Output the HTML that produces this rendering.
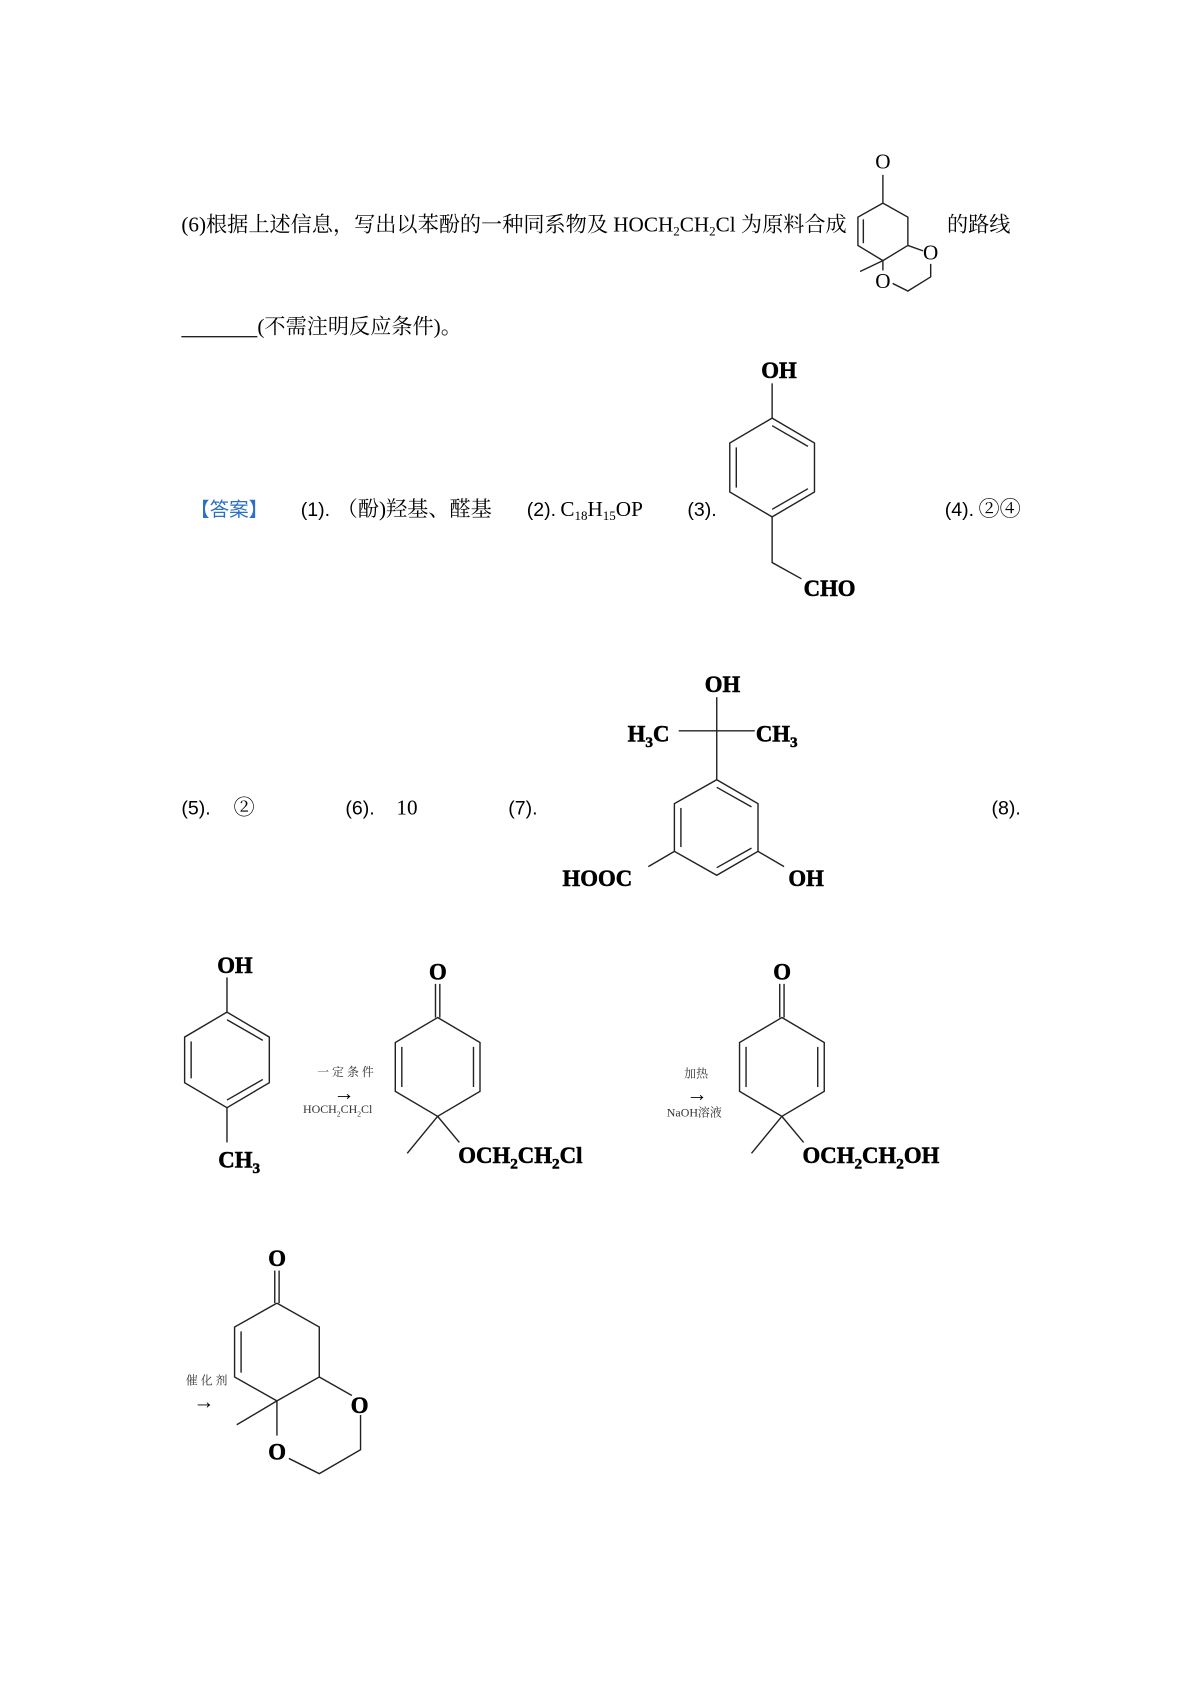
<!DOCTYPE html>
<html><head><meta charset="utf-8"><style>
html,body{margin:0;padding:0;background:#fff;}
svg{display:block}
.t{font-family:"Liberation Serif","Noto Serif CJK SC","Noto Sans CJK SC",serif;font-size:19.5px;fill:#000}
.s{font-family:"Liberation Sans","Noto Sans CJK SC",sans-serif;font-size:18px;fill:#000}
.b{font-family:"Liberation Serif",serif;font-weight:bold;font-size:21px;fill:#000;stroke:#000;stroke-width:0.5}
.sm{font-family:"Liberation Serif","Noto Serif CJK SC",serif;font-size:11px;fill:#333}
line,polyline,polygon{stroke:#222;stroke-width:1.3;fill:none}
</style></head><body>
<svg width="1200" height="1698" viewBox="0 0 1105 1563.6" xmlns="http://www.w3.org/2000/svg">
<text class="t" x="167" y="213">(6)根据上述信息，写出以苯酚的一种同系物及 HOCH<tspan font-size="12" dy="4">2</tspan><tspan dy="-4">CH</tspan><tspan font-size="12" dy="4">2</tspan><tspan dy="-4">Cl 为原料合成</tspan></text>
<text class="t" x="872" y="213">的路线</text>
<text class="t" x="806" y="155" font-size="20">O</text>
<line x1="813" y1="161" x2="813" y2="187"/>
<polyline points="813,187 836,200 836,226"/>
<polyline points="836,226 813,240 790,226 790,200 813,187"/>
<line x1="795" y1="202" x2="795" y2="224"/>
<line x1="813" y1="240" x2="792" y2="250"/>
<line x1="813" y1="240" x2="813" y2="249"/>
<line x1="836" y1="226" x2="850" y2="231"/>
<text class="t" x="850" y="239" font-size="19">O</text>
<text class="t" x="806" y="265" font-size="19">O</text>
<polyline points="857,243 857,255 836,268 822,261"/>
<line x1="167" y1="310" x2="237" y2="310" stroke="#888" stroke-width="1"/>
<text class="t" x="237" y="307">(不需注明反应条件)。</text>

<text class="s" x="175" y="475" style="fill:#2a6fc9">【答案】</text>
<text class="s" x="277" y="475">(1).</text><text class="t" x="310" y="475">（酚)羟基、醛基</text>
<text class="s" x="485" y="475">(2).</text><text class="t" x="516" y="475">C<tspan font-size="12" dy="4">18</tspan><tspan dy="-4">H</tspan><tspan font-size="12" dy="4">15</tspan><tspan dy="-4">OP</tspan></text>
<text class="s" x="633" y="475">(3).</text>
<text class="s" x="870" y="475">(4).</text><text class="t" x="901" y="475">②④</text>
<text class="b" x="701" y="348">OH</text>
<line x1="711" y1="353" x2="711" y2="385"/>
<polygon points="711,385 750,408 750,453 711,476 672,453 672,408"/>
<line x1="711" y1="392" x2="744" y2="411"/>
<line x1="678" y1="412" x2="678" y2="449"/>
<line x1="744" y1="450" x2="711" y2="469"/>
<polyline points="711,476 711,518 738,533"/>
<text class="b" x="740" y="549">CHO</text>

<text class="s" x="167" y="750">(5).</text><text class="t" x="215" y="750">②</text>
<text class="s" x="318" y="750">(6).</text><text class="t" x="365" y="750">10</text>
<text class="s" x="468" y="750">(7).</text>
<text class="s" x="913" y="750">(8).</text>
<text class="b" x="649" y="637">OH</text>
<line x1="660" y1="642" x2="660" y2="718"/>
<line x1="625" y1="673" x2="695" y2="673"/>
<text class="b" x="578" y="683">H<tspan font-size="14" dy="5">3</tspan><tspan dy="-5">C</tspan></text>
<text class="b" x="696" y="683">CH<tspan font-size="14" dy="5">3</tspan></text>
<polygon points="660,718 698,740 698,784 660,806 621,784 621,740"/>
<line x1="660" y1="725" x2="692" y2="743"/>
<line x1="627" y1="744" x2="627" y2="780"/>
<line x1="692" y1="781" x2="660" y2="799"/>
<line x1="621" y1="784" x2="597" y2="798"/>
<line x1="698" y1="784" x2="722" y2="798"/>
<text class="b" x="518" y="816">HOOC</text>
<text class="b" x="726" y="816">OH</text>

<text class="b" x="200" y="896">OH</text>
<line x1="209" y1="900" x2="209" y2="932"/>
<polygon points="209,932 248,955 248,997 209,1020 170,997 170,955"/>
<line x1="209" y1="939" x2="242" y2="958"/>
<line x1="176" y1="959" x2="176" y2="993"/>
<line x1="242" y1="994" x2="209" y2="1013"/>
<line x1="209" y1="1020" x2="209" y2="1052"/>
<text class="b" x="201" y="1075">CH<tspan font-size="14" dy="5">3</tspan></text>
<text class="sm" x="292" y="991">一 定 条 件</text>
<text class="t" x="307" y="1013" font-size="16">→</text>
<text class="sm" x="279" y="1025">HOCH<tspan font-size="7" dy="3">2</tspan><tspan dy="-3">CH</tspan><tspan font-size="7" dy="3">2</tspan><tspan dy="-3">Cl</tspan></text>

<g id="m2">
<text class="b" x="395" y="902">O</text>
<line x1="401" y1="906" x2="401" y2="937"/><line x1="405" y1="906" x2="405" y2="937"/>
<polygon points="403,937 442,960 442,1005 403,1028 364,1005 364,960"/>
<line x1="370" y1="964" x2="370" y2="1001"/>
<line x1="436" y1="964" x2="436" y2="1001"/>
<line x1="403" y1="1028" x2="375" y2="1062"/>
<line x1="403" y1="1028" x2="423" y2="1052"/>
</g>
<text class="b" x="422" y="1071">OCH<tspan font-size="14" dy="5">2</tspan><tspan dy="-5">CH</tspan><tspan font-size="14" dy="5">2</tspan><tspan dy="-5">Cl</tspan></text>
<text class="sm" x="630" y="992">加热</text>
<text class="t" x="632" y="1014" font-size="16">→</text>
<text class="sm" x="614" y="1028">NaOH溶液</text>
<use href="#m2" x="317" y="0"/>
<text class="b" x="739" y="1071">OCH<tspan font-size="14" dy="5">2</tspan><tspan dy="-5">CH</tspan><tspan font-size="14" dy="5">2</tspan><tspan dy="-5">OH</tspan></text>

<text class="b" x="247" y="1166">O</text>
<line x1="253" y1="1170" x2="253" y2="1200"/><line x1="257" y1="1170" x2="257" y2="1200"/>
<polyline points="255,1200 294,1222 294,1268 255,1290 216,1268 216,1222 255,1200"/>
<line x1="222" y1="1226" x2="222" y2="1264"/>
<line x1="294" y1="1268" x2="324" y2="1285"/>
<text class="b" x="323" y="1301">O</text>
<polyline points="332,1303 332,1335 294,1357 266,1343"/>
<line x1="255" y1="1290" x2="255" y2="1322"/>
<text class="b" x="247" y="1344">O</text>
<line x1="255" y1="1290" x2="218" y2="1312"/>
<text class="sm" x="171" y="1275">催 化 剂</text>
<text class="t" x="178" y="1297" font-size="16">→</text>
</svg>
</body></html>
